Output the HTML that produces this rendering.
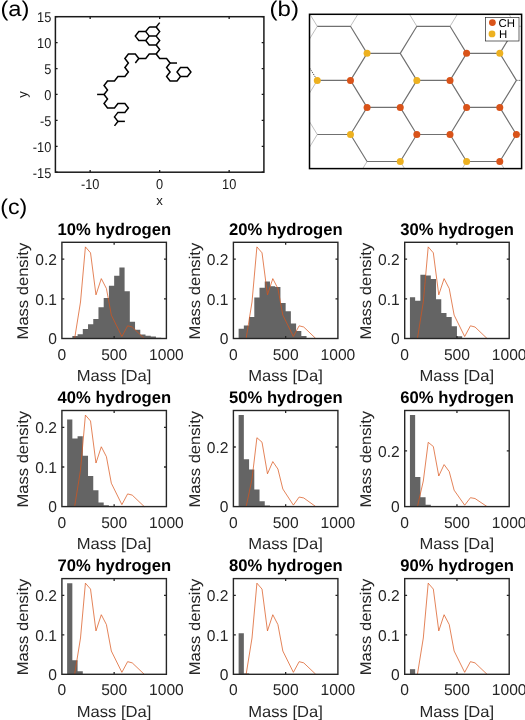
<!DOCTYPE html>
<html><head><meta charset="utf-8"><style>
html,body{margin:0;padding:0;background:#fff;width:525px;height:720px;overflow:hidden}
svg{display:block;will-change:transform}
</style></head><body>
<svg width="525" height="720" viewBox="0 0 525 720" text-rendering="geometricPrecision">
<rect width="525" height="720" fill="#fff"/>
<g fill="none" stroke="#000" stroke-width="1.5" stroke-linejoin="miter" stroke-linecap="butt">
<polyline points="159.65,22.63 156.17,27.12"/>
<polyline points="149.22,27.12 156.17,27.12 159.65,31.61 156.17,36.09 149.22,36.09 145.75,31.61 149.22,27.12"/>
<polyline points="149.22,36.09 145.75,40.58 149.22,45.07 156.17,45.07 159.65,40.58 156.17,36.09"/>
<polyline points="145.75,31.61 138.8,31.61 135.32,36.09 138.8,40.58 145.75,40.58"/>
<polyline points="156.17,45.07 159.65,49.56 156.17,54.05"/>
<polyline points="156.17,54.05 149.22,54.05 145.75,58.54 138.8,58.54 135.32,54.05 128.37,54.05 124.9,58.54 128.37,63.03 124.9,67.52 128.37,72.01 124.9,76.49 117.95,76.49 114.47,80.98 107.52,80.98 104.05,85.47 107.52,89.96 104.05,94.45 107.52,98.94 104.05,103.43 107.52,107.92 114.47,107.92 117.95,103.43 124.9,103.43 128.37,107.92 124.9,112.41 117.95,112.41 114.47,116.89 117.95,121.38 114.47,125.87"/>
<polyline points="138.8,58.54 135.32,63.03"/>
<polyline points="104.05,94.45 97.1,94.45"/>
<polyline points="117.95,121.38 124.9,121.38"/>
<polyline points="156.17,54.05 159.65,58.54 166.6,58.54 170.07,63.03 166.6,67.52 170.07,72.01 166.6,76.49 170.07,80.98 177.02,80.98 180.5,76.49 177.02,72.01 180.5,67.52 187.45,67.52 190.92,72.01 187.45,76.49 180.5,76.49"/>
<polyline points="170.07,63.03 177.02,63.03"/>
</g>
<rect x="55.4" y="16.7" width="208.5" height="155.5" fill="none" stroke="#1a1a1a" stroke-width="1.5"/>
<path d="M90.15 172.2v-2.2M90.15 16.7v2.2M159.65 172.2v-2.2M159.65 16.7v2.2M229.15 172.2v-2.2M229.15 16.7v2.2M55.4 172.2h2.2M263.9 172.2h-2.2M55.4 146.28h2.2M263.9 146.28h-2.2M55.4 120.37h2.2M263.9 120.37h-2.2M55.4 94.45h2.2M263.9 94.45h-2.2M55.4 68.53h2.2M263.9 68.53h-2.2M55.4 42.62h2.2M263.9 42.62h-2.2M55.4 16.7h2.2M263.9 16.7h-2.2" stroke="#1a1a1a" stroke-width="1.3" fill="none"/>
<g font-family='"Liberation Sans", sans-serif' font-size="14.2" fill="#1a1a1a">
<text transform="translate(90.15,188.9) scale(0.9,1)" text-anchor="middle">-10</text>
<text transform="translate(159.65,188.9) scale(0.9,1)" text-anchor="middle">0</text>
<text transform="translate(229.15,188.9) scale(0.9,1)" text-anchor="middle">10</text>
<text transform="translate(51.3,177.8) scale(0.9,1)" text-anchor="end">-15</text>
<text transform="translate(51.3,151.88) scale(0.9,1)" text-anchor="end">-10</text>
<text transform="translate(51.3,125.97) scale(0.9,1)" text-anchor="end">-5</text>
<text transform="translate(51.3,100.05) scale(0.9,1)" text-anchor="end">0</text>
<text transform="translate(51.3,74.13) scale(0.9,1)" text-anchor="end">5</text>
<text transform="translate(51.3,48.22) scale(0.9,1)" text-anchor="end">10</text>
<text transform="translate(51.3,22.3) scale(0.9,1)" text-anchor="end">15</text>
<text x="159.65" y="205" text-anchor="middle" font-size="13.2">x</text>
<text transform="translate(27,94.45) rotate(-90)" text-anchor="middle" font-size="13.2">y</text>
</g>
<defs><clipPath id="cb"><rect x="309.5" y="14.3" width="212.1" height="154.3"/></clipPath></defs>
<g clip-path="url(#cb)" fill="none">
<path d="M267.53 -0.74L300.71 -0.74M300.71 -0.74L317.3 26.3M367.07 -0.74L400.25 -0.74M367.07 -0.74L350.48 26.3M400.25 -0.74L416.84 26.3M466.61 -0.74L499.79 -0.74M466.61 -0.74L450.02 26.3M499.79 -0.74L516.38 26.3M317.3 26.3L300.71 53.34M516.38 26.3L549.56 26.3M267.53 53.34L300.71 53.34M317.3 80.38L300.71 107.42M267.53 107.42L300.71 107.42M300.71 107.42L317.3 134.46M317.3 134.46L300.71 161.5M516.38 134.46L549.56 134.46M267.53 161.5L300.71 161.5M300.71 161.5L317.3 188.54M367.07 161.5L350.48 188.54M400.25 161.5L416.84 188.54M466.61 161.5L450.02 188.54M499.79 161.5L516.38 188.54M317.3 188.54L350.48 188.54M416.84 188.54L450.02 188.54M516.38 188.54L549.56 188.54" stroke="#b8b8b8" stroke-width="0.9"/>
<path d="M317.3 26.3L350.48 26.3M350.48 26.3L367.07 53.34M416.84 26.3L450.02 26.3M416.84 26.3L400.25 53.34M450.02 26.3L466.61 53.34M516.38 26.3L499.79 53.34M367.07 53.34L400.25 53.34M367.07 53.34L350.48 80.38M400.25 53.34L416.84 80.38M466.61 53.34L499.79 53.34M466.61 53.34L450.02 80.38M499.79 53.34L516.38 80.38M317.3 80.38L350.48 80.38M350.48 80.38L367.07 107.42M416.84 80.38L450.02 80.38M416.84 80.38L400.25 107.42M450.02 80.38L466.61 107.42M516.38 80.38L499.79 107.42M367.07 107.42L400.25 107.42M367.07 107.42L350.48 134.46M400.25 107.42L416.84 134.46M466.61 107.42L499.79 107.42M466.61 107.42L450.02 134.46M499.79 107.42L516.38 134.46M317.3 134.46L350.48 134.46M350.48 134.46L367.07 161.5M416.84 134.46L450.02 134.46M416.84 134.46L400.25 161.5M450.02 134.46L466.61 161.5M516.38 134.46L499.79 161.5M367.07 161.5L400.25 161.5M466.61 161.5L499.79 161.5" stroke="#707070" stroke-width="1.15"/>
<path d="M300.71 53.34L317.3 80.38M516.38 80.38L549.56 80.38" stroke="#505050" stroke-width="1" stroke-dasharray="1.2,1"/>
</g>
<circle cx="466.61" cy="53.34" r="3.5" fill="#D95319"/>
<circle cx="350.48" cy="80.38" r="3.5" fill="#D95319"/>
<circle cx="450.02" cy="80.38" r="3.5" fill="#D95319"/>
<circle cx="367.07" cy="107.42" r="3.5" fill="#D95319"/>
<circle cx="400.25" cy="107.42" r="3.5" fill="#D95319"/>
<circle cx="466.61" cy="107.42" r="3.5" fill="#D95319"/>
<circle cx="499.79" cy="107.42" r="3.5" fill="#D95319"/>
<circle cx="416.84" cy="134.46" r="3.5" fill="#D95319"/>
<circle cx="450.02" cy="134.46" r="3.5" fill="#D95319"/>
<circle cx="516.38" cy="134.46" r="3.5" fill="#D95319"/>
<circle cx="499.79" cy="161.5" r="3.5" fill="#D95319"/>
<circle cx="367.07" cy="53.34" r="3.5" fill="#EDB120"/>
<circle cx="499.79" cy="53.34" r="3.5" fill="#EDB120"/>
<circle cx="317.3" cy="80.38" r="3.5" fill="#EDB120"/>
<circle cx="416.84" cy="80.38" r="3.5" fill="#EDB120"/>
<circle cx="350.48" cy="134.46" r="3.5" fill="#EDB120"/>
<circle cx="400.25" cy="161.5" r="3.5" fill="#EDB120"/>
<circle cx="466.61" cy="161.5" r="3.5" fill="#EDB120"/>
<rect x="309.5" y="14.3" width="212.1" height="154.3" fill="none" stroke="#000" stroke-width="1.5"/>
<rect x="485.6" y="17.6" width="33.4" height="23.4" fill="#fff" stroke="#262626" stroke-width="0.7"/>
<circle cx="492.4" cy="22.6" r="3.4" fill="#D95319"/><circle cx="492" cy="33.9" r="3.4" fill="#EDB120"/>
<g font-family='"Liberation Sans", sans-serif' font-size="11.4" fill="#000"><text x="498.6" y="26.9">CH</text><text x="498.9" y="38.3">H</text></g>
<g font-family='"Liberation Sans", sans-serif' font-size="21.5" fill="#000">
<text x="0.4" y="15.9" textLength="29" lengthAdjust="spacingAndGlyphs">(a)</text>
<text x="269.5" y="15.9" textLength="29.4" lengthAdjust="spacingAndGlyphs">(b)</text>
<text x="0.2" y="214.2" textLength="27" lengthAdjust="spacingAndGlyphs">(c)</text>
</g>
<path d="M72.35 338.5V336.12H77.58V338.5ZM77.58 338.5V334.14H82.8V338.5ZM82.8 338.5V328.98H88.03V338.5ZM88.03 338.5V324.22H93.25V338.5ZM93.25 338.5V319.07H98.47V338.5ZM98.47 338.5V307.17H103.7V338.5ZM103.7 338.5V298.04H108.92V338.5ZM108.92 338.5V285.75H114.15V338.5ZM114.15 338.5V275.83H119.38V338.5ZM119.38 338.5V267.51H124.6V338.5ZM124.6 338.5V291.3H129.82V338.5ZM129.82 338.5V321.84H135.05V338.5ZM135.05 338.5V329.77H140.28V338.5ZM140.28 338.5V334.53H145.5V338.5ZM145.5 338.5V335.72H150.72V338.5ZM150.72 338.5V336.52H155.95V338.5ZM155.95 338.5V337.71H161.18V338.5Z" fill="#646464"/>
<polyline points="74.65,338.5 80.5,302.01 85.41,246.88 90.53,252.83 95.97,294.87 101.3,278.61 106.42,288.53 111.33,315.1 121.88,336.52 127.63,325.81 132.23,327 144.25,338.5" fill="none" stroke="#D95319" stroke-width="0.72"/>
<rect x="61.9" y="242.3" width="104.5" height="96.2" fill="none" stroke="#262626" stroke-width="1.4"/>
<path d="M114.15 338.5v-2.4M114.15 242.3v2.4M61.9 298.84h2.4M166.4 298.84h-2.4M61.9 259.18h2.4M166.4 259.18h-2.4" stroke="#262626" stroke-width="1.3" fill="none"/>
<g font-family='"Liberation Sans", sans-serif' font-size="15" fill="#262626">
<text x="61.9" y="359.5" text-anchor="middle" font-size="15.6">0</text>
<text x="114.15" y="359.5" text-anchor="middle" font-size="15.6">500</text>
<text x="166.4" y="359.5" text-anchor="middle" font-size="15.6">1000</text>
<text x="57" y="344.3" text-anchor="end" font-size="15.6">0</text>
<text x="57" y="304.64" text-anchor="end" font-size="15.6">0.1</text>
<text x="57" y="264.98" text-anchor="end" font-size="15.6">0.2</text>
<text x="76.75" y="381.1" font-size="16" textLength="74.6" lengthAdjust="spacingAndGlyphs">Mass [Da]</text>
<text transform="translate(28.4,339.4) rotate(-90)" font-size="15.5" textLength="96.6" lengthAdjust="spacingAndGlyphs">Mass density</text>
</g>
<text x="57.55" y="235" font-family='"Liberation Sans", sans-serif' font-size="16.8" font-weight="bold" fill="#000" textLength="113.6" lengthAdjust="spacingAndGlyphs">10% hydrogen</text>
<path d="M238.62 338.5V328.86H243.85V338.5ZM243.85 338.5V325.53H249.08V338.5ZM249.08 338.5V317.08H254.3V338.5ZM254.3 338.5V297.45H259.52V338.5ZM259.52 338.5V287.73H264.75V338.5ZM264.75 338.5V281.59H269.98V338.5ZM269.98 338.5V286.15H275.2V338.5ZM275.2 338.5V286.94H280.43V338.5ZM280.43 338.5V303H285.65V338.5ZM285.65 338.5V311.13H290.88V338.5ZM290.88 338.5V323.43H296.1V338.5ZM296.1 338.5V330.96H301.32V338.5ZM301.32 338.5V336.12H306.55V338.5Z" fill="#646464"/>
<polyline points="246.15,338.5 252,302.01 256.91,246.88 262.03,252.83 267.47,294.87 272.8,278.61 277.92,288.53 282.83,315.1 293.38,336.52 299.13,325.81 303.73,327 315.75,338.5" fill="none" stroke="#D95319" stroke-width="0.72"/>
<rect x="233.4" y="242.3" width="104.5" height="96.2" fill="none" stroke="#262626" stroke-width="1.4"/>
<path d="M285.65 338.5v-2.4M285.65 242.3v2.4M233.4 298.84h2.4M337.9 298.84h-2.4M233.4 259.18h2.4M337.9 259.18h-2.4" stroke="#262626" stroke-width="1.3" fill="none"/>
<g font-family='"Liberation Sans", sans-serif' font-size="15" fill="#262626">
<text x="233.4" y="359.5" text-anchor="middle" font-size="15.6">0</text>
<text x="285.65" y="359.5" text-anchor="middle" font-size="15.6">500</text>
<text x="337.9" y="359.5" text-anchor="middle" font-size="15.6">1000</text>
<text x="228.5" y="344.3" text-anchor="end" font-size="15.6">0</text>
<text x="228.5" y="304.64" text-anchor="end" font-size="15.6">0.1</text>
<text x="228.5" y="264.98" text-anchor="end" font-size="15.6">0.2</text>
<text x="248.25" y="381.1" font-size="16" textLength="74.6" lengthAdjust="spacingAndGlyphs">Mass [Da]</text>
<text transform="translate(199.9,339.4) rotate(-90)" font-size="15.5" textLength="96.6" lengthAdjust="spacingAndGlyphs">Mass density</text>
</g>
<text x="229.05" y="235" font-family='"Liberation Sans", sans-serif' font-size="16.8" font-weight="bold" fill="#000" textLength="113.6" lengthAdjust="spacingAndGlyphs">20% hydrogen</text>
<path d="M409.93 338.5V297.25H415.15V338.5ZM415.15 338.5V300.82H420.38V338.5ZM420.38 338.5V274.64H425.6V338.5ZM425.6 338.5V275.44H430.82V338.5ZM430.82 338.5V279.01H436.05V338.5ZM436.05 338.5V299.23H441.27V338.5ZM441.27 338.5V313.12H446.5V338.5ZM446.5 338.5V317.08H451.72V338.5ZM451.72 338.5V326.2H456.95V338.5ZM456.95 338.5V336.32H462.18V338.5Z" fill="#646464"/>
<polyline points="417.45,338.5 423.3,302.01 428.21,246.88 433.33,252.83 438.77,294.87 444.1,278.61 449.22,288.53 454.13,315.1 464.68,336.52 470.43,325.81 475.03,327 487.05,338.5" fill="none" stroke="#D95319" stroke-width="0.72"/>
<rect x="404.7" y="242.3" width="104.5" height="96.2" fill="none" stroke="#262626" stroke-width="1.4"/>
<path d="M456.95 338.5v-2.4M456.95 242.3v2.4M404.7 298.84h2.4M509.2 298.84h-2.4M404.7 259.18h2.4M509.2 259.18h-2.4" stroke="#262626" stroke-width="1.3" fill="none"/>
<g font-family='"Liberation Sans", sans-serif' font-size="15" fill="#262626">
<text x="404.7" y="359.5" text-anchor="middle" font-size="15.6">0</text>
<text x="456.95" y="359.5" text-anchor="middle" font-size="15.6">500</text>
<text x="509.2" y="359.5" text-anchor="middle" font-size="15.6">1000</text>
<text x="399.8" y="344.3" text-anchor="end" font-size="15.6">0</text>
<text x="399.8" y="304.64" text-anchor="end" font-size="15.6">0.1</text>
<text x="399.8" y="264.98" text-anchor="end" font-size="15.6">0.2</text>
<text x="419.55" y="381.1" font-size="16" textLength="74.6" lengthAdjust="spacingAndGlyphs">Mass [Da]</text>
<text transform="translate(371.2,339.4) rotate(-90)" font-size="15.5" textLength="96.6" lengthAdjust="spacingAndGlyphs">Mass density</text>
</g>
<text x="400.35" y="235" font-family='"Liberation Sans", sans-serif' font-size="16.8" font-weight="bold" fill="#000" textLength="113.6" lengthAdjust="spacingAndGlyphs">30% hydrogen</text>
<path d="M67.12 506.6V419.43H72.35V506.6ZM72.35 506.6V438.45H77.58V506.6ZM77.58 506.6V436.27H82.8V506.6ZM82.8 506.6V455.65H88.03V506.6ZM88.03 506.6V476.09H93.25V506.6ZM93.25 506.6V490.16H98.47V506.6ZM98.47 506.6V502.4H103.7V506.6ZM103.7 506.6V505.29H108.92V506.6ZM108.92 506.6V506.2H114.15V506.6Z" fill="#646464"/>
<polyline points="74.65,506.6 80.5,470.15 85.41,415.08 90.53,421.02 95.97,463.02 101.3,446.77 106.42,456.68 111.33,483.22 121.88,504.62 127.63,493.92 132.23,495.11 144.25,506.6" fill="none" stroke="#D95319" stroke-width="0.72"/>
<rect x="61.9" y="410.5" width="104.5" height="96.1" fill="none" stroke="#262626" stroke-width="1.4"/>
<path d="M114.15 506.6v-2.4M114.15 410.5v2.4M61.9 466.98h2.4M166.4 466.98h-2.4M61.9 427.36h2.4M166.4 427.36h-2.4" stroke="#262626" stroke-width="1.3" fill="none"/>
<g font-family='"Liberation Sans", sans-serif' font-size="15" fill="#262626">
<text x="61.9" y="527.6" text-anchor="middle" font-size="15.6">0</text>
<text x="114.15" y="527.6" text-anchor="middle" font-size="15.6">500</text>
<text x="166.4" y="527.6" text-anchor="middle" font-size="15.6">1000</text>
<text x="57" y="512.4" text-anchor="end" font-size="15.6">0</text>
<text x="57" y="472.78" text-anchor="end" font-size="15.6">0.1</text>
<text x="57" y="433.16" text-anchor="end" font-size="15.6">0.2</text>
<text x="76.75" y="549.2" font-size="16" textLength="74.6" lengthAdjust="spacingAndGlyphs">Mass [Da]</text>
<text transform="translate(28.4,507.5) rotate(-90)" font-size="15.5" textLength="96.6" lengthAdjust="spacingAndGlyphs">Mass density</text>
</g>
<text x="57.55" y="403.2" font-family='"Liberation Sans", sans-serif' font-size="16.8" font-weight="bold" fill="#000" textLength="113.6" lengthAdjust="spacingAndGlyphs">40% hydrogen</text>
<path d="M238.62 506.6V415.08H243.85V506.6ZM243.85 506.6V459.2H249.08V506.6ZM249.08 506.6V469.48H254.3V506.6ZM254.3 506.6V489.61H259.52V506.6ZM259.52 506.6V501.23H264.75V506.6ZM264.75 506.6V505.41H269.98V506.6Z" fill="#646464"/>
<polyline points="246.15,506.6 252,479.17 256.91,437.73 262.03,442.21 267.47,473.81 272.8,461.58 277.92,469.04 282.83,489.01 293.38,505.11 299.13,497.06 303.73,497.95 315.75,506.6" fill="none" stroke="#D95319" stroke-width="0.72"/>
<rect x="233.4" y="410.5" width="104.5" height="96.1" fill="none" stroke="#262626" stroke-width="1.4"/>
<path d="M285.65 506.6v-2.4M285.65 410.5v2.4M233.4 446.98h2.4M337.9 446.98h-2.4" stroke="#262626" stroke-width="1.3" fill="none"/>
<g font-family='"Liberation Sans", sans-serif' font-size="15" fill="#262626">
<text x="233.4" y="527.6" text-anchor="middle" font-size="15.6">0</text>
<text x="285.65" y="527.6" text-anchor="middle" font-size="15.6">500</text>
<text x="337.9" y="527.6" text-anchor="middle" font-size="15.6">1000</text>
<text x="228.5" y="512.4" text-anchor="end" font-size="15.6">0</text>
<text x="228.5" y="452.78" text-anchor="end" font-size="15.6">0.2</text>
<text x="248.25" y="549.2" font-size="16" textLength="74.6" lengthAdjust="spacingAndGlyphs">Mass [Da]</text>
<text transform="translate(199.9,507.5) rotate(-90)" font-size="15.5" textLength="96.6" lengthAdjust="spacingAndGlyphs">Mass density</text>
</g>
<text x="229.05" y="403.2" font-family='"Liberation Sans", sans-serif' font-size="16.8" font-weight="bold" fill="#000" textLength="113.6" lengthAdjust="spacingAndGlyphs">50% hydrogen</text>
<path d="M409.93 506.6V415.08H415.15V506.6ZM415.15 506.6V477.11H420.38V506.6ZM420.38 506.6V497.14H425.6V506.6ZM425.6 506.6V504.65H430.82V506.6Z" fill="#646464"/>
<polyline points="417.45,506.6 423.3,481.01 428.21,442.34 433.33,446.51 438.77,476 444.1,464.59 449.22,471.55 454.13,490.19 464.68,505.21 470.43,497.7 475.03,498.53 487.05,506.6" fill="none" stroke="#D95319" stroke-width="0.72"/>
<rect x="404.7" y="410.5" width="104.5" height="96.1" fill="none" stroke="#262626" stroke-width="1.4"/>
<path d="M456.95 506.6v-2.4M456.95 410.5v2.4M404.7 450.96h2.4M509.2 450.96h-2.4" stroke="#262626" stroke-width="1.3" fill="none"/>
<g font-family='"Liberation Sans", sans-serif' font-size="15" fill="#262626">
<text x="404.7" y="527.6" text-anchor="middle" font-size="15.6">0</text>
<text x="456.95" y="527.6" text-anchor="middle" font-size="15.6">500</text>
<text x="509.2" y="527.6" text-anchor="middle" font-size="15.6">1000</text>
<text x="399.8" y="512.4" text-anchor="end" font-size="15.6">0</text>
<text x="399.8" y="456.76" text-anchor="end" font-size="15.6">0.2</text>
<text x="419.55" y="549.2" font-size="16" textLength="74.6" lengthAdjust="spacingAndGlyphs">Mass [Da]</text>
<text transform="translate(371.2,507.5) rotate(-90)" font-size="15.5" textLength="96.6" lengthAdjust="spacingAndGlyphs">Mass density</text>
</g>
<text x="400.35" y="403.2" font-family='"Liberation Sans", sans-serif' font-size="16.8" font-weight="bold" fill="#000" textLength="113.6" lengthAdjust="spacingAndGlyphs">60% hydrogen</text>
<path d="M67.12 674.3V583.35H72.35V674.3ZM72.35 674.3V660.21H77.58V674.3ZM77.58 674.3V671.18H82.8V674.3Z" fill="#646464"/>
<polyline points="74.65,674.3 80.5,638 85.41,583.16 90.53,589.08 95.97,630.9 101.3,614.72 106.42,624.59 111.33,651.02 121.88,672.33 127.63,661.67 132.23,662.86 144.25,674.3" fill="none" stroke="#D95319" stroke-width="0.72"/>
<rect x="61.9" y="578.6" width="104.5" height="95.7" fill="none" stroke="#262626" stroke-width="1.4"/>
<path d="M114.15 674.3v-2.4M114.15 578.6v2.4M61.9 634.84h2.4M166.4 634.84h-2.4M61.9 595.39h2.4M166.4 595.39h-2.4" stroke="#262626" stroke-width="1.3" fill="none"/>
<g font-family='"Liberation Sans", sans-serif' font-size="15" fill="#262626">
<text x="61.9" y="695.3" text-anchor="middle" font-size="15.6">0</text>
<text x="114.15" y="695.3" text-anchor="middle" font-size="15.6">500</text>
<text x="166.4" y="695.3" text-anchor="middle" font-size="15.6">1000</text>
<text x="57" y="680.1" text-anchor="end" font-size="15.6">0</text>
<text x="57" y="640.64" text-anchor="end" font-size="15.6">0.1</text>
<text x="57" y="601.19" text-anchor="end" font-size="15.6">0.2</text>
<text x="76.75" y="716.9" font-size="16" textLength="74.6" lengthAdjust="spacingAndGlyphs">Mass [Da]</text>
<text transform="translate(28.4,675.2) rotate(-90)" font-size="15.5" textLength="96.6" lengthAdjust="spacingAndGlyphs">Mass density</text>
</g>
<text x="57.55" y="571.3" font-family='"Liberation Sans", sans-serif' font-size="16.8" font-weight="bold" fill="#000" textLength="113.6" lengthAdjust="spacingAndGlyphs">70% hydrogen</text>
<path d="M238.62 674.3V633.27H243.85V674.3ZM243.85 674.3V673.51H249.08V674.3Z" fill="#646464"/>
<polyline points="246.15,674.3 252,638 256.91,583.16 262.03,589.08 267.47,630.9 272.8,614.72 277.92,624.59 282.83,651.02 293.38,672.33 299.13,661.67 303.73,662.86 315.75,674.3" fill="none" stroke="#D95319" stroke-width="0.72"/>
<rect x="233.4" y="578.6" width="104.5" height="95.7" fill="none" stroke="#262626" stroke-width="1.4"/>
<path d="M285.65 674.3v-2.4M285.65 578.6v2.4M233.4 634.84h2.4M337.9 634.84h-2.4M233.4 595.39h2.4M337.9 595.39h-2.4" stroke="#262626" stroke-width="1.3" fill="none"/>
<g font-family='"Liberation Sans", sans-serif' font-size="15" fill="#262626">
<text x="233.4" y="695.3" text-anchor="middle" font-size="15.6">0</text>
<text x="285.65" y="695.3" text-anchor="middle" font-size="15.6">500</text>
<text x="337.9" y="695.3" text-anchor="middle" font-size="15.6">1000</text>
<text x="228.5" y="680.1" text-anchor="end" font-size="15.6">0</text>
<text x="228.5" y="640.64" text-anchor="end" font-size="15.6">0.1</text>
<text x="228.5" y="601.19" text-anchor="end" font-size="15.6">0.2</text>
<text x="248.25" y="716.9" font-size="16" textLength="74.6" lengthAdjust="spacingAndGlyphs">Mass [Da]</text>
<text transform="translate(199.9,675.2) rotate(-90)" font-size="15.5" textLength="96.6" lengthAdjust="spacingAndGlyphs">Mass density</text>
</g>
<text x="229.05" y="571.3" font-family='"Liberation Sans", sans-serif' font-size="16.8" font-weight="bold" fill="#000" textLength="113.6" lengthAdjust="spacingAndGlyphs">80% hydrogen</text>
<path d="M409.93 674.3V669.17H415.15V674.3Z" fill="#646464"/>
<polyline points="417.45,674.3 423.3,638 428.21,583.16 433.33,589.08 438.77,630.9 444.1,614.72 449.22,624.59 454.13,651.02 464.68,672.33 470.43,661.67 475.03,662.86 487.05,674.3" fill="none" stroke="#D95319" stroke-width="0.72"/>
<rect x="404.7" y="578.6" width="104.5" height="95.7" fill="none" stroke="#262626" stroke-width="1.4"/>
<path d="M456.95 674.3v-2.4M456.95 578.6v2.4M404.7 634.84h2.4M509.2 634.84h-2.4M404.7 595.39h2.4M509.2 595.39h-2.4" stroke="#262626" stroke-width="1.3" fill="none"/>
<g font-family='"Liberation Sans", sans-serif' font-size="15" fill="#262626">
<text x="404.7" y="695.3" text-anchor="middle" font-size="15.6">0</text>
<text x="456.95" y="695.3" text-anchor="middle" font-size="15.6">500</text>
<text x="509.2" y="695.3" text-anchor="middle" font-size="15.6">1000</text>
<text x="399.8" y="680.1" text-anchor="end" font-size="15.6">0</text>
<text x="399.8" y="640.64" text-anchor="end" font-size="15.6">0.1</text>
<text x="399.8" y="601.19" text-anchor="end" font-size="15.6">0.2</text>
<text x="419.55" y="716.9" font-size="16" textLength="74.6" lengthAdjust="spacingAndGlyphs">Mass [Da]</text>
<text transform="translate(371.2,675.2) rotate(-90)" font-size="15.5" textLength="96.6" lengthAdjust="spacingAndGlyphs">Mass density</text>
</g>
<text x="400.35" y="571.3" font-family='"Liberation Sans", sans-serif' font-size="16.8" font-weight="bold" fill="#000" textLength="113.6" lengthAdjust="spacingAndGlyphs">90% hydrogen</text>
</svg>
</body></html>
